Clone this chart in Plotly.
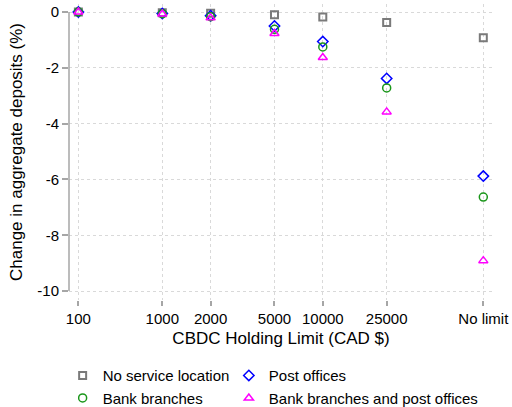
import math
import plotly.graph_objects as go

# CBDC holding limits (tick labels) and where each sits on the log axis
limit_labels = ["100", "1000", "2000", "5000", "10000", "25000", "No limit"]
limit_pos = [300, 1000, 2000, 5000, 10000, 25000, 100000]

# Change in aggregate deposits (%) by service-location scenario
no_service = [0.0, -0.03, -0.04, -0.10, -0.18, -0.38, -0.92]
post_offices = [0.0, -0.05, -0.13, -0.50, -1.06, -2.38, -5.88]
bank_branches = [0.0, -0.06, -0.17, -0.62, -1.25, -2.72, -6.63]
branches_and_post = [0.0, -0.07, -0.21, -0.77, -1.63, -3.58, -8.91]

y_ticks = [0, -2, -4, -6, -8, -10]

FONT = "Liberation Sans, Arial, sans-serif"
AXIS_GREY = "#a6a6a6"
GRID = "#d9d9d9"

# name, values, symbol, colour, size, line width, legend column
series = [
    ("No service location", no_service, "square-open", "#7a7a7a", 7, 2.0, "legend"),
    ("Post offices", post_offices, "diamond-open", "#0000ff", 8, 1.5, "legend2"),
    ("Bank branches", bank_branches, "circle-open", "#1a961a", 8, 1.5, "legend"),
    ("Bank branches and post offices", branches_and_post, "triangle-up-open", "#ff00ff", 8, 1.5, "legend2"),
]

fig = go.Figure()
for name, vals, sym, col, size, lw, leg in series:
    fig.add_trace(go.Scatter(
        x=limit_pos, y=vals, mode="markers", name=name, legend=leg,
        marker=dict(symbol=sym, color=col, size=size, line=dict(color=col, width=lw)),
        cliponaxis=False,
    ))

# Axis lines span only the tick range
fig.add_shape(type="line", xref="paper", yref="y", x0=0, x1=0,
              y0=min(y_ticks), y1=max(y_ticks), line=dict(color=AXIS_GREY, width=1.5))
fig.add_shape(type="line", xref="x", yref="paper",
              x0=math.log10(limit_pos[0]), x1=math.log10(limit_pos[-1]), y0=0, y1=0,
              line=dict(color=AXIS_GREY, width=1.5))

fig.update_xaxes(
    type="log", range=[2.4187, 5.0604],
    tickvals=limit_pos, ticktext=limit_labels,
    ticks="outside", ticklen=5, tickcolor=AXIS_GREY, tickwidth=1.5,
    showline=False, zeroline=False,
    showgrid=True, gridcolor=GRID, griddash="dot", gridwidth=1,
    tickfont=dict(size=15, color="#000000", family=FONT),
    title=dict(text="CBDC Holding Limit (CAD $)", font=dict(size=17, color="#000000", family=FONT), standoff=6),
    automargin=False,
)
fig.update_yaxes(
    range=[-10.32, 0.287],
    tickvals=y_ticks, ticktext=[str(v) for v in y_ticks],
    ticks="outside", ticklen=6, tickcolor=AXIS_GREY, tickwidth=1.5,
    showline=False, zeroline=False,
    showgrid=True, gridcolor=GRID, griddash="dot", gridwidth=1,
    tickfont=dict(size=15, color="#000000", family=FONT),
    title=dict(text="Change in aggregate deposits (%)", font=dict(size=17, color="#000000", family=FONT), standoff=10),
    automargin=False,
)

legend_style = dict(
    orientation="v", yanchor="top", y=-0.2, xanchor="left",
    font=dict(size=15, family=FONT), itemsizing="trace",
    tracegroupgap=0, bgcolor="rgba(0,0,0,0)",
)
fig.update_layout(
    width=512, height=407,
    margin=dict(l=69, r=19, t=4, b=107, autoexpand=False),
    paper_bgcolor="#ffffff", plot_bgcolor="#ffffff",
    font=dict(family=FONT, size=15, color="#000000"),
    legend=dict(x=-0.015, **legend_style),
    legend2=dict(x=0.377, **legend_style),
)

fig.write_html("out.html")
